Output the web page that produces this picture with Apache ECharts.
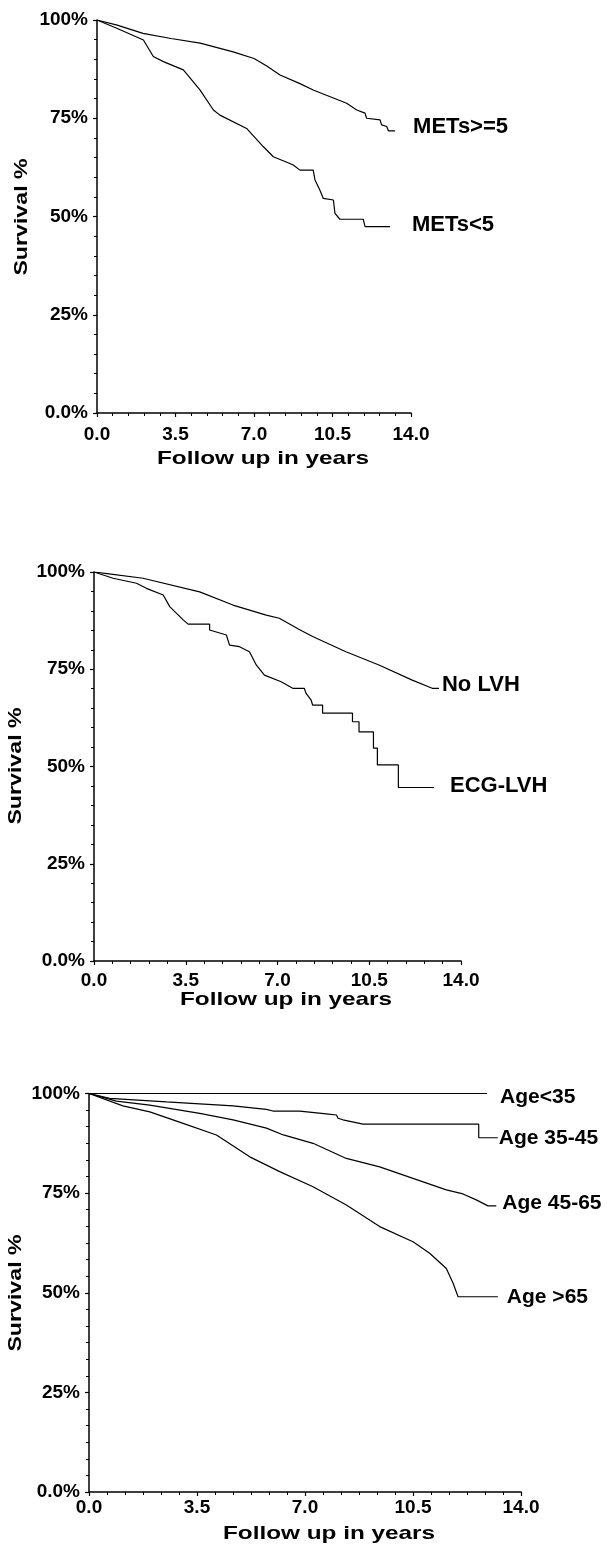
<!DOCTYPE html>
<html>
<head>
<meta charset="utf-8">
<script src="https://cdn.jsdelivr.net/npm/echarts@6/dist/echarts.min.js"></script>
<style>
  html, body { margin: 0; padding: 0; background: #fff; }
  #main { width: 607px; height: 1548px; }
</style>
</head>
<body>
<div id="main"></div>
<script>
// survival curves, [years, survival %]
var metsHigh = [[0,100],[0.9,98.7],[2.05,96.6],[3.3,95.3],[4.6,94.1],[6.07,91.9],[7.0,90.2],[7.57,88.3],[8.16,86.0],[9.05,83.8],[9.64,82.2],[11.13,78.8],[11.58,77.1],[11.95,76.3],[12.02,75.0],[12.62,74.6],[12.69,73.3],[12.92,72.9],[12.99,71.8],[13.29,71.8]];
var metsLow = [[0,100],[0.88,97.9],[2.07,94.9],[2.51,90.7],[2.96,89.4],[3.85,87.3],[4.59,82.2],[5.19,77.1],[5.48,75.8],[6.67,72.4],[7.41,67.8],[7.86,65.2],[8.6,63.5],[8.75,63.1],[9.05,61.8],[9.64,61.8],[9.72,59.3],[9.94,56.7],[10.09,54.6],[10.54,54.2],[10.61,50.8],[10.83,49.3],[11.87,49.3],[11.95,47.4],[13.06,47.4]];

var noLvh = [[0,100],[0.5,99.6],[1.87,98.4],[4.03,94.9],[5.3,91.5],[6.57,88.9],[7.07,88.1],[7.83,85.2],[8.34,83.4],[9.61,79.5],[10.87,76.1],[12.14,72.2],[12.9,70.1],[13.16,70.1]];
var ecgLvh = [[0,100],[0.73,98.4],[1.62,97.1],[2.0,95.8],[2.64,94.1],[2.89,91.1],[3.4,87.7],[3.59,86.6],[4.41,86.6],[4.41,85.1],[5.05,83.8],[5.17,81.2],[5.55,80.8],[5.93,79.5],[6.19,76.1],[6.5,73.5],[7.14,71.8],[7.58,70.1],[8.02,70.1],[8.09,68.8],[8.28,67.1],[8.34,65.8],[8.72,65.8],[8.72,63.7],[9.86,63.7],[9.86,61.5],[10.11,61.5],[10.11,58.9],[10.66,58.9],[10.66,54.7],[10.81,54.7],[10.81,50.4],[11.61,50.4],[11.61,44.6],[12.97,44.6]];

var ageUnder35 = [[0,100],[12.9,100]];
var age35to45 = [[0,100],[0.67,98.8],[2.51,97.9],[4.67,96.9],[5.75,96.0],[5.96,95.6],[6.83,95.6],[7.69,94.9],[8.02,94.6],[8.07,93.8],[8.23,93.4],[8.88,92.3],[12.63,92.3],[12.63,88.9],[13.25,88.9]];
var age45to65 = [[0,100],[0.89,98.1],[1.97,97.1],[3.59,95.0],[4.67,93.4],[5.75,91.3],[6.3,89.6],[7.26,87.5],[8.34,83.7],[9.42,81.6],[10.5,78.7],[11.58,75.8],[12.12,74.8],[12.55,73.3],[12.93,71.8],[13.2,71.8]];
var ageOver65 = [[0,100],[1.1,96.9],[1.97,95.4],[3.05,92.5],[4.13,89.6],[5.21,84.1],[6.18,80.4],[7.26,76.6],[8.34,72.0],[9.42,66.6],[10.5,62.8],[11.04,59.9],[11.58,56.1],[11.8,52.4],[11.96,49.0],[13.25,49.0]];

var yearTicks = [0, 3.5, 7, 10.5, 14];
var survTicks = [0, 25, 50, 75, 100];

var chart = echarts.init(document.getElementById('main'));
var FONT = 'Arial, "Liberation Sans", sans-serif';

var panels = [
    { left: 97, top: 20, width: 314, height: 393, minor: 5, labelMargin: 12 },
    { left: 94, top: 572, width: 367, height: 389, minor: 5, labelMargin: 10 },
    { left: 89, top: 1093.5, width: 432, height: 398.5, minor: 6, labelMargin: 6 }
];

var grids = [], xAxes = [], yAxes = [];
panels.forEach(function(p, i) {
    grids.push({ left: p.left, top: p.top, width: p.width, height: p.height, containLabel: false });
    xAxes.push({
        type: 'value', gridIndex: i,
        min: yearTicks[0], max: yearTicks[yearTicks.length - 1], interval: 3.5,
        axisLine: { show: true, onZero: false, lineStyle: { color: '#000', width: 1.5 } },
        axisTick: { show: true, length: 4, lineStyle: { color: '#000', width: 1.2 } },
        minorTick: { show: true, splitNumber: p.minor, length: 3, lineStyle: { color: '#000', width: 1 } },
        splitLine: { show: false },
        axisLabel: {
            color: '#000', fontSize: 19, fontWeight: 'bold', fontFamily: FONT, margin: p.labelMargin,
            formatter: function(v) { return v.toFixed(1); }
        }
    });
    yAxes.push({
        type: 'value', gridIndex: i,
        min: survTicks[0], max: survTicks[survTicks.length - 1], interval: 25,
        axisLine: { show: true, onZero: false, lineStyle: { color: '#000', width: 1.5 } },
        axisTick: { show: true, length: 4, lineStyle: { color: '#000', width: 1.2 } },
        minorTick: { show: true, splitNumber: p.minor, length: 3, lineStyle: { color: '#000', width: 1 } },
        splitLine: { show: false },
        axisLabel: {
            color: '#000', fontSize: 19, fontWeight: 'bold', fontFamily: FONT, margin: 9,
            formatter: function(v) { return v === 0 ? '0.0%' : v + '%'; }
        }
    });
});

function curve(name, data, idx, dist, dy, size) {
    return {
        name: name, type: 'line', xAxisIndex: idx, yAxisIndex: idx,
        data: data, showSymbol: false, symbol: 'none',
        lineStyle: { color: '#000', width: 1.2 },
        endLabel: {
            show: true, formatter: '{a}', distance: dist, offset: [0, dy],
            color: '#000', fontSize: size, fontWeight: 'bold', fontFamily: FONT
        }
    };
}

function title(text, x, y, rot, sx) {
    return {
        type: 'text', x: x, y: y, rotation: rot, scaleX: sx,
        style: { text: text, fill: '#000', fontSize: 19, fontWeight: 'bold', fontFamily: FONT, align: 'center', verticalAlign: 'middle' }
    };
}

var option = {
    backgroundColor: '#fff',
    animation: false,
    grid: grids,
    xAxis: xAxes,
    yAxis: yAxes,
    graphic: [
        title('Follow up in years', 263, 459, 0, 1.28),
        title('Follow up in years', 286, 1000, 0, 1.28),
        title('Follow up in years', 329, 1534, 0, 1.28),
        title('Survival %', 22, 217, Math.PI / 2, 1.22),
        title('Survival %', 16, 766, Math.PI / 2, 1.22),
        title('Survival %', 16, 1293, Math.PI / 2, 1.22)
    ],
    series: [
        curve('METs>=5', metsHigh, 0, 18, -4, 22),
        curve('METs<5', metsLow, 0, 22, -2, 22),
        curve('No LVH', noLvh, 1, 3, -3, 22),
        curve('ECG-LVH', ecgLvh, 1, 16, -2, 22),
        curve('Age<35', ageUnder35, 2, 13, 4, 21),
        curve('Age 35-45', age35to45, 2, 1, 0, 21),
        curve('Age 45-65', age45to65, 2, 6, -3, 21),
        curve('Age >65', ageOver65, 2, 9, 0, 21)
    ]
};

chart.setOption(option);
</script>
</body>
</html>
